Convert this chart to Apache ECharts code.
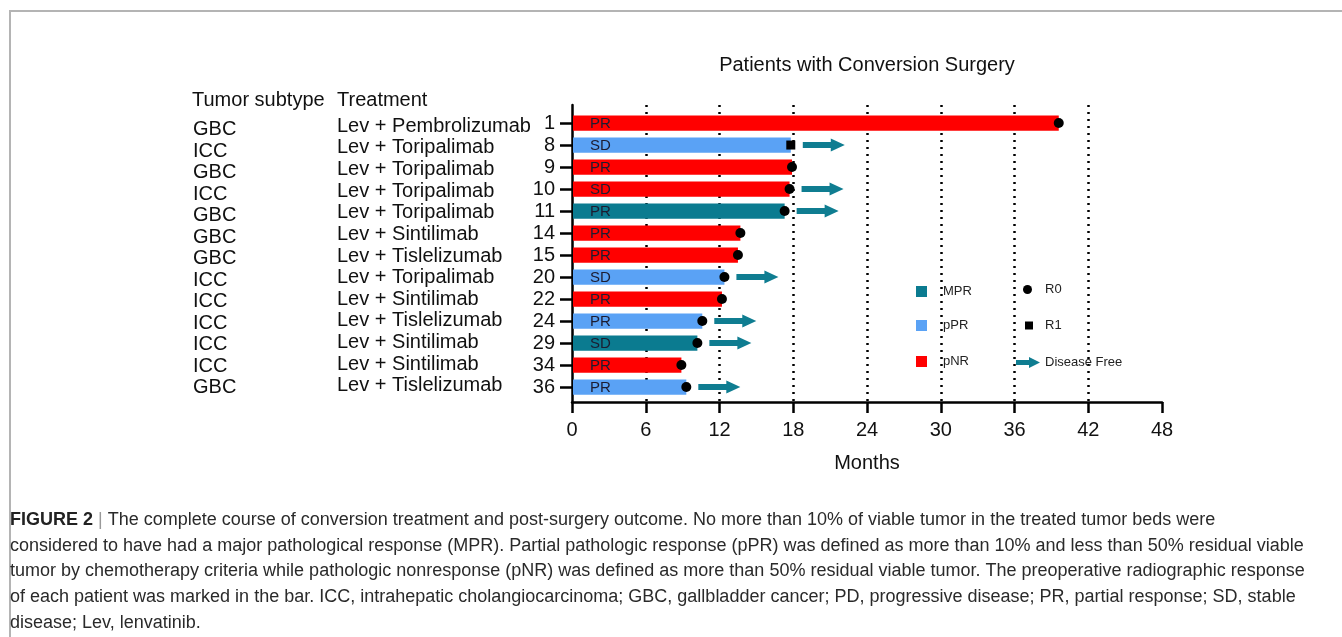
<!DOCTYPE html>
<html>
<head>
    <meta charset="UTF-8">
    <title>Patients with Conversion Surgery</title>
    <script src="https://cdn.jsdelivr.net/npm/echarts@6.0.0/dist/echarts.min.js"></script>
    <style>
        body, html {
            margin: 0;
            padding: 0;
            background: #fff;
        }
        #frame {
            position: absolute;
            left: 9px;
            top: 10px;
            width: 1340px;
            height: 640px;
            border-top: 2px solid #b4b4b4;
            border-left: 2px solid #b4b4b4;
        }
        #main {
            position: absolute;
            left: 0;
            top: 0;
            width: 1342px;
            height: 637px;
        }
    </style>
</head>
<body>
<div id="frame"></div>
<div id="main"></div>
<script>
    // one entry per patient, top to bottom
    var patients = [1, 8, 9, 10, 11, 14, 15, 20, 22, 24, 29, 34, 36];
    var subtypes = ['GBC', 'ICC', 'GBC', 'ICC', 'GBC', 'GBC', 'GBC', 'ICC', 'ICC', 'ICC', 'ICC', 'ICC', 'GBC'];
    var treatments = ['Lev + Pembrolizumab', 'Lev + Toripalimab', 'Lev + Toripalimab', 'Lev + Toripalimab',
        'Lev + Toripalimab', 'Lev + Sintilimab', 'Lev + Tislelizumab', 'Lev + Toripalimab', 'Lev + Sintilimab',
        'Lev + Tislelizumab', 'Lev + Sintilimab', 'Lev + Sintilimab', 'Lev + Tislelizumab'];
    var months = [39.6, 17.8, 17.9, 17.7, 17.3, 13.7, 13.5, 12.4, 12.2, 10.6, 10.2, 8.9, 9.3];
    var pathology = ['pNR', 'pPR', 'pNR', 'pNR', 'MPR', 'pNR', 'pNR', 'pPR', 'pNR', 'pPR', 'MPR', 'pNR', 'pPR'];
    var radiology = ['PR', 'SD', 'PR', 'SD', 'PR', 'PR', 'PR', 'SD', 'PR', 'PR', 'SD', 'PR', 'PR'];
    var margins = ['R0', 'R1', 'R0', 'R0', 'R0', 'R0', 'R0', 'R0', 'R0', 'R0', 'R0', 'R0', 'R0'];
    var diseaseFree = [false, true, false, true, true, false, false, true, false, true, true, false, true];

    var colors = {MPR: '#0b7b90', pPR: '#5aa2f5', pNR: '#ff0000', arrow: '#0f7d91'};
    var FONT = '"Liberation Sans", Arial, sans-serif';
    var rows = patients.map(function (p, i) { return i; });

    var chart = echarts.init(document.getElementById('main'));

    function barItem(params, api) {
        var row = api.value(1);
        var s = api.coord([0, row]);
        var e = api.coord([api.value(0), row]);
        var h = Math.abs(api.size([0, 1])[1]) * 0.69;
        return {
            type: 'group',
            children: [{
                type: 'rect',
                shape: {x: s[0] + 1, y: s[1] - h / 2, width: e[0] - s[0] - 1, height: h},
                style: {fill: api.visual('color')}
            }, {
                type: 'text',
                x: s[0] + 18,
                y: s[1] + 1,
                style: {
                    text: radiology[row], fill: '#1c1c30',
                    font: '15px ' + FONT, align: 'left', verticalAlign: 'middle'
                }
            }]
        };
    }

    function arrowItem(params, api) {
        var e = api.coord([api.value(0), api.value(1)]);
        var x = e[0] + 12, y = e[1];
        return {
            type: 'polygon',
            shape: {points: [[x, y - 3], [x + 28, y - 3], [x + 28, y - 6.5], [x + 42, y],
                [x + 28, y + 6.5], [x + 28, y + 3], [x, y + 3]]},
            style: {fill: api.visual('color')}
        };
    }

    function pick(test) {
        var out = [];
        for (var i = 0; i < months.length; i++) {
            if (test(i)) out.push([months[i], i]);
        }
        return out;
    }

    var series = ['MPR', 'pPR', 'pNR'].map(function (g) {
        return {
            name: g,
            type: 'custom',
            renderItem: barItem,
            itemStyle: {color: colors[g]},
            encode: {x: 0, y: 1},
            z: 2,
            data: pick(function (i) { return pathology[i] === g; })
        };
    });
    series.push({
        name: 'R0', type: 'scatter', symbol: 'circle', symbolSize: 10, z: 4,
        itemStyle: {color: '#000', opacity: 1},
        data: pick(function (i) { return margins[i] === 'R0'; })
    });
    series.push({
        name: 'R1', type: 'scatter', symbol: 'rect', symbolSize: 9, z: 4,
        itemStyle: {color: '#000', opacity: 1},
        data: pick(function (i) { return margins[i] === 'R1'; })
    });
    series.push({
        name: 'Disease Free', type: 'custom', renderItem: arrowItem, z: 3,
        itemStyle: {color: colors.arrow},
        encode: {x: 0, y: 1},
        data: pick(function (i) { return diseaseFree[i]; })
    });

    var arrowIcon = 'path://M0,3L13,3L13,0L24,5.5L13,11L13,8L0,8Z';
    function legendAt(name, icon, w, h, left, top, pad) {
        return {
            data: [{name: name, icon: icon}],
            left: left, top: top, padding: 0,
            itemWidth: w, itemHeight: h,
            selectedMode: false,
            textStyle: {fontSize: 13, color: '#222', fontFamily: FONT, padding: [0, 0, 0, pad]}
        };
    }

    // text columns to the left of the patient axis (slightly different row pitch in the original)
    function textColumn(offset, min, max, labels) {
        return {
            type: 'value', inverse: true, min: min, max: max, position: 'left', offset: offset,
            splitLine: {show: false},
            axisLine: {show: false}, axisTick: {show: false},
            axisLabel: {customValues: rows, fontSize: 20, color: '#111', margin: 0, align: 'left', fontFamily: FONT,
                formatter: function (v) { return labels[v]; }}
        };
    }

    function header(text, left) {
        return {
            text: text, left: left, top: 90, padding: 0,
            textStyle: {fontSize: 20, fontWeight: 'normal', color: '#111', fontFamily: FONT}
        };
    }

    var caption = [
        '{b|FIGURE 2} {g||} The complete course of conversion treatment and post-surgery outcome. No more than 10% of viable tumor in the treated tumor beds were',
        'considered to have had a major pathological response (MPR). Partial pathologic response (pPR) was defined as more than 10% and less than 50% residual viable',
        'tumor by chemotherapy criteria while pathologic nonresponse (pNR) was defined as more than 50% residual viable tumor. The preoperative radiographic response',
        'of each patient was marked in the bar. ICC, intrahepatic cholangiocarcinoma; GBC, gallbladder cancer; PD, progressive disease; PR, partial response; SD, stable',
        'disease; Lev, lenvatinib.'
    ].join('\n');

    var option = {
        animation: false,
        textStyle: {fontFamily: FONT},
        title: [{
            text: 'Patients with Conversion Surgery',
            left: 867, top: 55, textAlign: 'center', padding: 0,
            textStyle: {fontSize: 20, fontWeight: 'normal', color: '#111', fontFamily: FONT}
        },
            header('Tumor subtype', 192),
            header('Treatment', 337),
        {
            text: caption,
            left: 10, top: 507, padding: 0,
            textStyle: {
                fontSize: 18, fontWeight: 'normal', color: '#2a2a2a', lineHeight: 25.8, fontFamily: FONT,
                rich: {
                    b: {fontSize: 18, fontWeight: 'bold', color: '#222', lineHeight: 25.8, fontFamily: FONT},
                    g: {fontSize: 18, color: '#999', lineHeight: 25.8, fontFamily: FONT}
                }
            }
        }],
        legend: [
            legendAt('MPR', 'rect', 11, 11, 916, 285, 11),
            legendAt('pPR', 'rect', 11, 11, 916, 319, 11),
            legendAt('pNR', 'rect', 11, 11, 916, 355, 11),
            legendAt('R0', 'circle', 9, 9, 1023, 283, 8),
            legendAt('R1', 'rect', 8, 8, 1025, 319, 7),
            legendAt('Disease Free', arrowIcon, 24, 11, 1016, 356, 0)
        ],
        grid: {left: 572, top: 105, width: 590, height: 297, containLabel: false, outerBoundsMode: 'none'},
        xAxis: {
            type: 'value', min: 0, max: 48, interval: 6,
            name: 'Months', nameLocation: 'middle', nameGap: 51,
            nameTextStyle: {fontSize: 20, color: '#111', fontFamily: FONT},
            axisLine: {onZero: false, lineStyle: {color: '#000', width: 2.5}},
            axisTick: {length: 11, lineStyle: {color: '#000', width: 2.5}},
            axisLabel: {fontSize: 20, color: '#111', margin: 18, fontFamily: FONT},
            splitLine: {
                show: true, showMinLine: false, showMaxLine: false,
                lineStyle: {color: '#000', width: 2.5, type: [2, 5]}
            }
        },
        yAxis: [{
            type: 'value', inverse: true, min: -0.82, max: 12.68, position: 'left',
            splitLine: {show: false},
            axisLine: {show: true, onZero: false, lineStyle: {color: '#000', width: 2.5}},
            axisTick: {show: true, customValues: rows, length: 12, lineStyle: {color: '#000', width: 2.5}},
            axisLabel: {customValues: rows, fontSize: 20, color: '#111', margin: 17, fontFamily: FONT,
                formatter: function (v) { return String(patients[v]); }}
        },
            textColumn(235, -0.97, 12.74, treatments),
            textColumn(379, -1.14, 12.67, subtypes)
        ],
        series: series
    };
    chart.setOption(option);
</script>
</body>
</html>
